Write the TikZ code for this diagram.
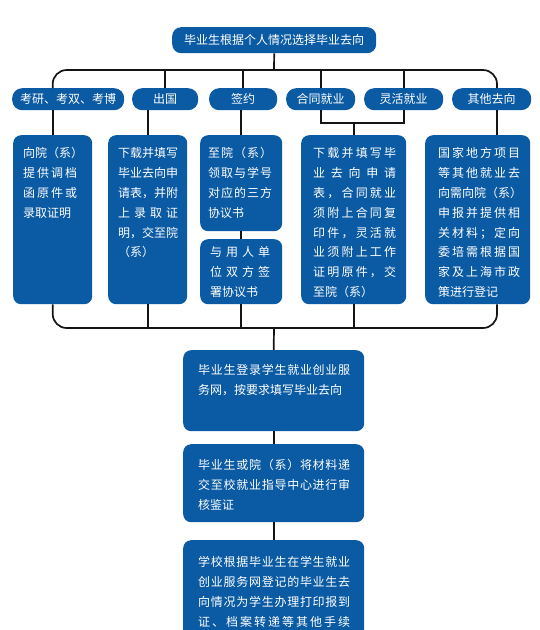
\documentclass[tikz,border=0pt]{standalone}
\usepackage{fontspec}
\setmainfont{Noto Sans CJK SC}
\usepackage{xcolor}
\usepackage{tikz}
\definecolor{flowblue}{RGB}{10,90,164}
\definecolor{wire}{RGB}{20,20,20}

% spread the characters of one line over a given width
\newcommand\spreadline[2]{\hbox to #1{\spreadstep#2\relax}}
\def\spreadstep#1#2{#1\ifx\relax#2\else\hfil\expandafter\spreadstep\expandafter#2\fi}
% width, height, left pad, first baseline, lines
\newcommand\cardtext[5]{\parbox[t][#2][t]{#1}{\leftskip=#3\relax\baselineskip=19.8pt\relax\rule{0pt}{#4}#5}}

\begin{document}
\begin{tikzpicture}[x=1pt,y=-1pt,
  font=\fontsize{12pt}{19.8pt}\selectfont,
  box/.style={fill=flowblue,text=white,inner sep=0pt,anchor=north west,rounded corners=8pt},
  tag/.style={box,rounded corners=10pt,minimum height=22pt},
  link/.style={draw=wire,line width=1.7pt}]
  \useasboundingbox (0,0) rectangle (539,630);
  \clip (0,0) rectangle (539,630);

  \node[box,minimum width=204pt,minimum height=26pt,rounded corners=9pt] (title) at (172,27) {毕业生根据个人情况选择毕业去向};

  \node[tag,minimum width=112pt] (kaoyan) at (12,88) {考研、考双、考博};
  \node[tag,minimum width=66pt] (chuguo) at (132,88) {出国};
  \node[tag,minimum width=68pt] (qianyue) at (209,88) {签约};
  \node[tag,minimum width=69pt] (hetong) at (286,88) {合同就业};
  \node[tag,minimum width=79pt] (linghuo) at (364,88) {灵活就业};
  \node[tag,minimum width=79pt] (qita) at (452,88) {其他去向};

  \node[box] (r1) at (13,135) {\cardtext{79pt}{169pt}{10pt}{22.6pt}{向院（系）\\\spreadline{54pt}{提供调档}\\\spreadline{54pt}{函原件或}\\录取证明}};
  \node[box] (r2) at (108,135) {\cardtext{79pt}{169pt}{10pt}{22.6pt}{下载并填写\\毕业去向申\\请表，并附\\\spreadline{60pt}{上录取证}\\明，交至院\\（系）}};
  \node[box] (r3) at (200,135) {\cardtext{82pt}{96pt}{8pt}{22.6pt}{\spreadline{64pt}{至院（系）}\\\spreadline{64pt}{领取与学号}\\\spreadline{64pt}{对应的三方}\\协议书}};
  \node[box] (r3b) at (200,239) {\cardtext{82pt}{65pt}{10pt}{17.6pt}{\spreadline{60pt}{与用人单}\\\spreadline{60pt}{位双方签}\\署协议书}};
  \node[box] (r4) at (301,135) {\cardtext{105pt}{169pt}{12pt}{22.6pt}{\spreadline{83pt}{下载并填写毕}\\\spreadline{83pt}{业去向申请}\\\spreadline{83pt}{表，合同就业}\\\spreadline{83pt}{须附上合同复}\\\spreadline{83pt}{印件，灵活就}\\\spreadline{83pt}{业须附上工作}\\\spreadline{83pt}{证明原件，交}\\至院（系）}};
  \node[box] (r5) at (425,135) {\cardtext{105pt}{169pt}{13pt}{22.6pt}{\spreadline{82pt}{国家地方项目}\\\spreadline{82pt}{等其他就业去}\\向需向院（系）\\\spreadline{82pt}{申报并提供相}\\\spreadline{82pt}{关材料；定向}\\\spreadline{82pt}{委培需根据国}\\\spreadline{82pt}{家及上海市政}\\策进行登记}};

  \node[box] (s1) at (183,350) {\cardtext{181pt}{81pt}{15pt}{24.6pt}{\spreadline{152pt}{毕业生登录学生就业创业服}\\务网，按要求填写毕业去向}};
  \node[box] (s2) at (183,444) {\cardtext{181pt}{78pt}{15pt}{25.6pt}{\spreadline{152pt}{毕业生或院（系）将材料递}\\\spreadline{152pt}{交至校就业指导中心进行审}\\核鉴证}};
  \node[box] (s3) at (183,540) {\cardtext{181pt}{110pt}{15pt}{26.6pt}{\spreadline{152pt}{学校根据毕业生在学生就业}\\\spreadline{152pt}{创业服务网登记的毕业生去}\\\spreadline{152pt}{向情况为学生办理打印报到}\\\spreadline{152pt}{证、档案转递等其他手续}}};

  \coordinate (bar) at (274,70);
  \coordinate (split) at (354,123);
  \coordinate (join) at (274,328);
  \coordinate (edge) at (497,0);

  % fan out
  \draw[link] (title.south) -- (bar);
  \draw[link,rounded corners=14pt] (r1.north |- kaoyan.north) -- (r1.north |- bar) -- (edge |- bar) -- (edge |- qita.north);
  \foreach \tg in {chuguo,qianyue,hetong,linghuo}
    \draw[link] (\tg.north) -- (\tg.north |- bar);
  \draw[link] (r1.north |- kaoyan.south) -- (r1.north);
  \draw[link] (r2.north |- chuguo.south) -- (r2.north);
  \draw[link] (r3.north |- qianyue.south) -- (r3.north);
  \draw[link] (hetong.south) -- (hetong.south |- split) -- (linghuo.south |- split) -- (linghuo.south);
  \draw[link] (r4.north |- split) -- (r4.north);
  \draw[link] (edge |- qita.south) -- (edge |- r5.north);
  \draw[link] (r3.south) -- (r3b.north);

  % gather
  \draw[link,rounded corners=14pt] (r1.south) -- (r1.south |- join) -- (edge |- join) -- (edge |- r5.south);
  \foreach \bx in {r2,r3b,r4}
    \draw[link] (\bx.south) -- (\bx.south |- join);
  \draw[link] (join) -- (s1.north);
  \draw[link] (s1.south) -- (s2.north);
  \draw[link] (s2.south) -- (s3.north);
\end{tikzpicture}
\end{document}
